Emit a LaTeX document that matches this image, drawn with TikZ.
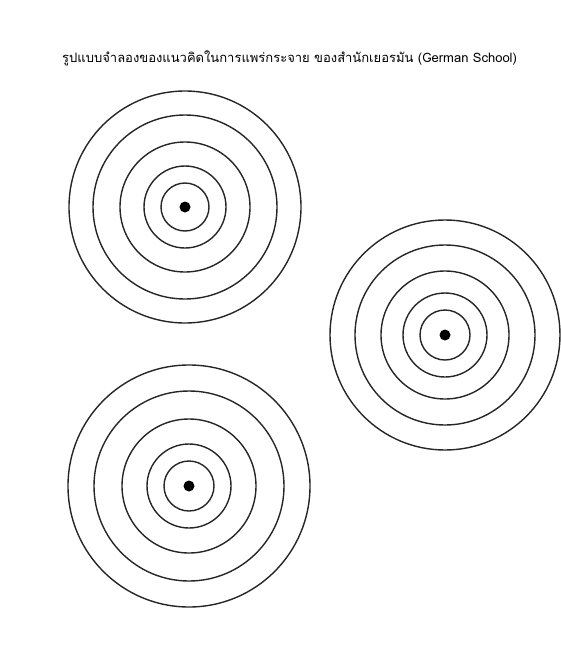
\documentclass[tikz,border=0pt]{standalone}
\usepackage{fontspec}
\newfontfamily\thaifont[Script=Thai]{Loma}
\begin{document}
\begin{tikzpicture}[x=1pt, y=-1pt,
  ring/.style={draw, line width=1.4pt, black!85},
  centre/.style={circle, fill=black, inner sep=0pt, minimum size=11pt}]
  \useasboundingbox (0,0) rectangle (560,648);
  % title
  \node[font=\thaifont\fontsize{13}{15}\selectfont, anchor=west, inner sep=0pt] (title) at (62,58)
    {รูปแบบจำลองของแนวคิดในการแพร่กระจาย ของสำนักเยอรมัน (German School)};
  % three centres of diffusion
  \node[centre] (c1) at (185,207) {};
  \node[centre] (c2) at (445,335) {};
  \node[centre] (c3) at (189,486) {};
  \foreach \r in {24,41,65,92,116} \draw[ring] (c1) circle (\r);
  \foreach \r in {25,42,64,90,115} \draw[ring] (c2) circle (\r);
  \foreach \r in {25,42,67,95,121} \draw[ring] (c3) circle (\r);
\end{tikzpicture}
\end{document}
